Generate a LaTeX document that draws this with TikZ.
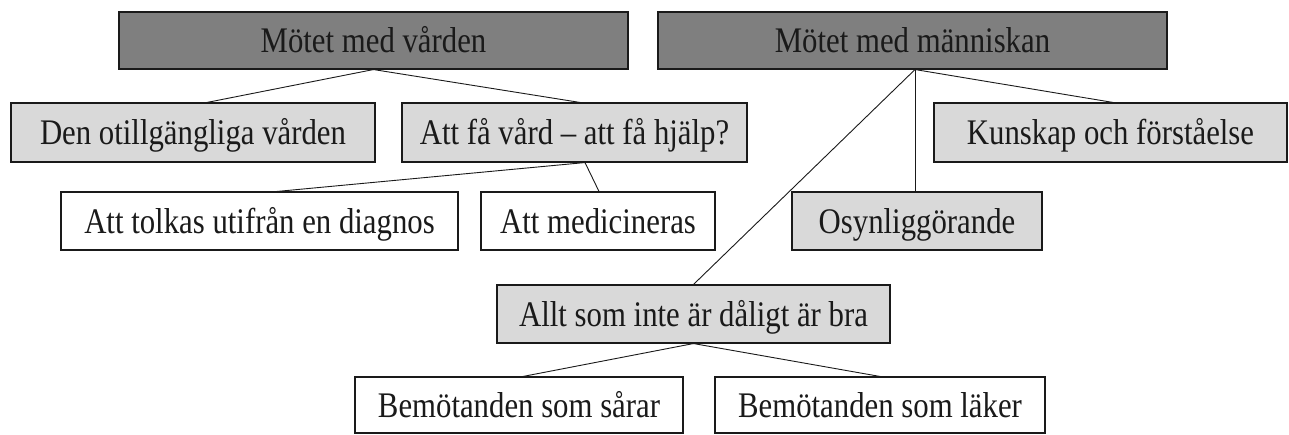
\documentclass[tikz,border=0pt]{standalone}
\usepackage{fontspec}
\setmainfont{Liberation Serif}[FakeStretch=0.855]
\definecolor{darkbox}{HTML}{7F7F7F}
\definecolor{lightbox}{HTML}{D9D9D9}
\definecolor{ink}{HTML}{1A1A1A}
\tikzset{
  box/.style={draw=ink, line width=1.1pt, inner sep=0pt, text=ink,
    font=\fontsize{36}{40}\selectfont, text height=25pt, text depth=0pt},
  dark/.style={box, fill=darkbox},
  light/.style={box, fill=lightbox},
  plain/.style={box, fill=white},
  link/.style={draw=ink, line width=0.9pt}
}
\begin{document}
\begin{tikzpicture}[x=1pt, y=-1pt]
\useasboundingbox[fill=white] (0,0) rectangle (1289,435);
% level 1
\node[dark, minimum width=509pt, minimum height=57pt] (vard) at (373.5,40.5) {Mötet med vården};
\node[dark, minimum width=509pt, minimum height=57pt] (manni) at (912.5,40.5) {Mötet med människan};
% level 2
\node[light, minimum width=364pt, minimum height=59pt] (otill) at (193,132.5) {Den otillgängliga vården};
\node[light, minimum width=345pt, minimum height=59pt] (attfa) at (574.5,132.5) {Att få vård – att få hjälp?};
\node[light, minimum width=353pt, minimum height=59pt] (kunskap) at (1110.5,132.5) {Kunskap och förståelse};
% level 3
\node[plain, minimum width=397pt, minimum height=58pt] (tolkas) at (259.5,221) {Att tolkas utifrån en diagnos};
\node[plain, minimum width=234pt, minimum height=58pt] (medic) at (598,221) {Att medicineras};
\node[light, minimum width=250pt, minimum height=58pt] (osyn) at (917,221) {Osynliggörande};
% level 4
\node[light, minimum width=393pt, minimum height=58pt] (allt) at (693.5,314) {Allt som inte är dåligt är bra};
% level 5
\node[plain, minimum width=328pt, minimum height=56pt] (sarar) at (519,405) {Bemötanden som sårar};
\node[plain, minimum width=330pt, minimum height=56pt] (laker) at (880,405) {Bemötanden som läker};
% connectors
\draw[link] (vard.south) -- ([xshift=14pt]otill.north);
\draw[link] (vard.south) -- ([xshift=5.5pt]attfa.north);
\draw[link] ([xshift=10.5pt]attfa.south) -- ([xshift=17.5pt]tolkas.north);
\draw[link] ([xshift=10.5pt]attfa.south) -- ([xshift=1pt]medic.north);
\draw[link] ([xshift=2.5pt]manni.south) -- (allt.north);
\draw[link] ([xshift=2.5pt]manni.south) -- ([xshift=-2pt]osyn.north);
\draw[link] ([xshift=2.5pt]manni.south) -- ([xshift=2.5pt]kunskap.north);
\draw[link] (allt.south) -- ([xshift=4pt]sarar.north);
\draw[link] (allt.south) -- (laker.north);
\end{tikzpicture}
\end{document}
